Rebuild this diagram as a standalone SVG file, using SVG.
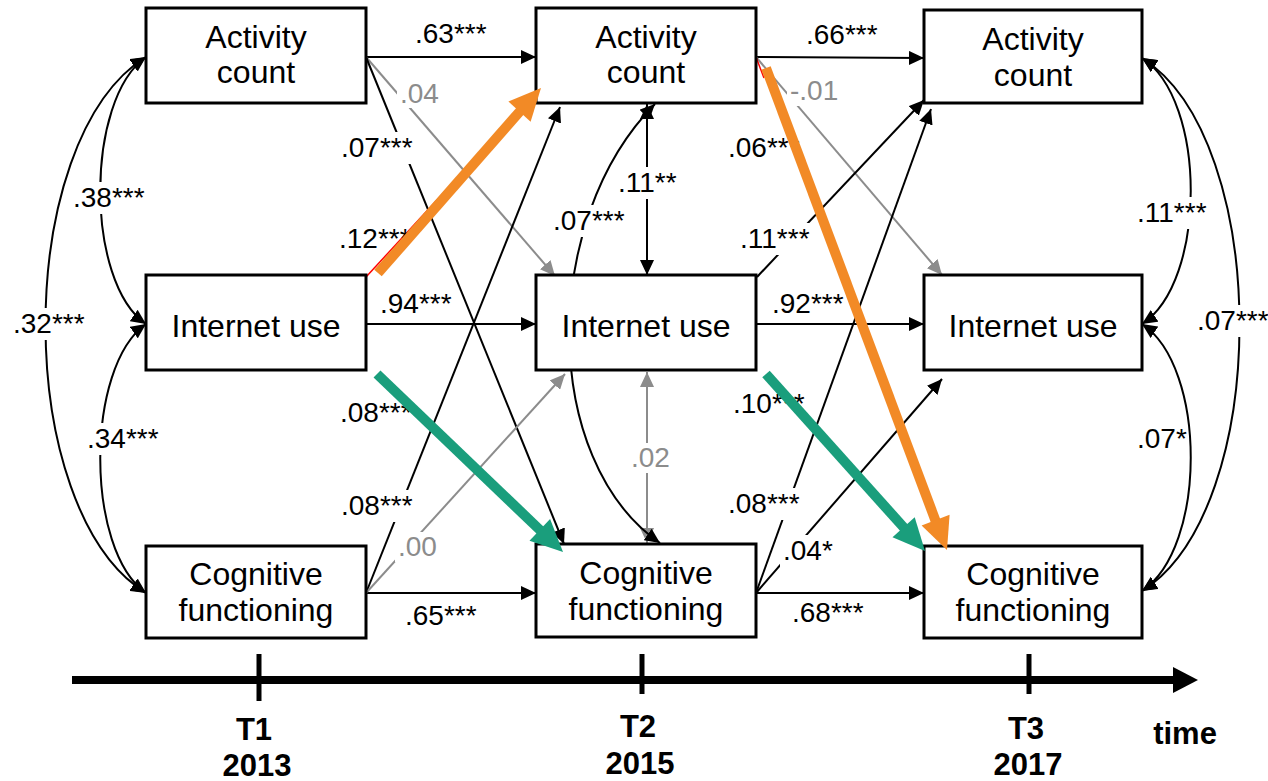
<svg xmlns="http://www.w3.org/2000/svg" width="1268" height="781" viewBox="0 0 1268 781">
  <style>
    .box { fill: #ffffff; stroke: #000000; stroke-width: 3; }
    .nt { font-family: "Liberation Sans", Arial, sans-serif; font-size: 32px; fill: #000000; text-anchor: middle; }
    .lb { font-family: "Liberation Sans", Arial, sans-serif; font-size: 28px; fill: #000000; }
    .lbg { fill: #8c8c8c; }
    .bg { fill: #ffffff; }
    .ln { fill: none; stroke: #000000; stroke-width: 2; }
    .lng { fill: none; stroke: #8c8c8c; stroke-width: 2; }
    .red { fill: none; stroke: #ff0000; stroke-width: 1.5; }
    .ax { font-family: "Liberation Sans", Arial, sans-serif; font-size: 31px; font-weight: bold; fill: #000000; text-anchor: middle; }
  </style>
  <defs>
    <marker id="ah" viewBox="0 0 15 14" refX="15" refY="7" markerWidth="15" markerHeight="14" markerUnits="userSpaceOnUse" orient="auto-start-reverse">
      <path d="M0,0 L15,7 L0,14 z" fill="#000000"/>
    </marker>
    <marker id="ahg" viewBox="0 0 15 14" refX="15" refY="7" markerWidth="15" markerHeight="14" markerUnits="userSpaceOnUse" orient="auto-start-reverse">
      <path d="M0,0 L15,7 L0,14 z" fill="#8c8c8c"/>
    </marker>
  </defs>
  <rect width="1268" height="781" fill="#ffffff"/>

  <!-- paths, covariances and stability arrows -->
  <g id="connectors">
    <!-- stability paths -->
    <path class="ln" d="M366,57 L536,57" marker-end="url(#ah)"/>
    <path class="ln" d="M366,324 L536,324" marker-end="url(#ah)"/>
    <path class="ln" d="M366,593 L536,593" marker-end="url(#ah)"/>
    <path class="ln" d="M756,57 L924,58" marker-end="url(#ah)"/>
    <path class="ln" d="M756,324 L924,324" marker-end="url(#ah)"/>
    <path class="ln" d="M756,593 L924,593" marker-end="url(#ah)"/>
    <!-- cross-lagged T1 to T2 -->
    <path class="lng" d="M366,57 L555,276" marker-end="url(#ahg)"/>
    <path class="ln" d="M366,57 L564,544" marker-end="url(#ah)"/>
    <path class="ln" d="M366,593 L560,107" marker-end="url(#ah)"/>
    <path class="lng" d="M366,593 L565,374" marker-end="url(#ahg)"/>
    <path class="red" d="M366,277 L520,110"/>
    <!-- cross-lagged T2 to T3 -->
    <path class="lng" d="M756,57 L942,275" marker-end="url(#ahg)"/>
    <path class="ln" d="M757,277 L924,100" marker-end="url(#ah)"/>
    <path class="ln" d="M756,593 L931,109" marker-end="url(#ah)"/>
    <path class="ln" d="M756,593 L942,379" marker-end="url(#ah)"/>
    <path class="red" d="M756,57 L764,78"/>
    <!-- T2 residual covariances -->
    <path class="ln" d="M647,104 L647,275" marker-start="url(#ah)" marker-end="url(#ah)"/>
    <path class="lng" d="M647,372 L647,543" marker-start="url(#ahg)" marker-end="url(#ahg)"/>
    <path class="ln" d="M655,104 C540,220 540,460 660,543" marker-start="url(#ah)" marker-end="url(#ah)"/>
    <!-- T1 covariances -->
    <path class="ln" d="M146,57 C85,100 85,282 146,324" marker-start="url(#ah)" marker-end="url(#ah)"/>
    <path class="ln" d="M146,324 C85,367 85,550 146,593" marker-start="url(#ah)" marker-end="url(#ah)"/>
    <path class="ln" d="M146,57 C12,140 12,510 146,593" marker-start="url(#ah)" marker-end="url(#ah)"/>
    <!-- T3 residual covariances -->
    <path class="ln" d="M1142,58 C1207,100 1207,282 1142,324" marker-start="url(#ah)" marker-end="url(#ah)"/>
    <path class="ln" d="M1142,324 C1207,367 1207,548 1142,591" marker-start="url(#ah)" marker-end="url(#ah)"/>
    <path class="ln" d="M1142,58 C1272,140 1272,510 1142,591" marker-start="url(#ah)" marker-end="url(#ah)"/>
  </g>

  <!-- T1 nodes -->
  <g id="activity-t1">
    <rect class="box" x="146" y="8" width="220" height="95"/>
    <text class="nt" x="256" y="48">Activity</text>
    <text class="nt" x="256" y="83">count</text>
  </g>
  <g id="internet-t1">
    <rect class="box" x="146" y="275" width="220" height="95"/>
    <text class="nt" x="256" y="337">Internet use</text>
  </g>
  <g id="cognitive-t1">
    <rect class="box" x="146" y="546" width="220" height="92"/>
    <text class="nt" x="256" y="585">Cognitive</text>
    <text class="nt" x="256" y="621">functioning</text>
  </g>

  <!-- T2 nodes -->
  <g id="activity-t2">
    <rect class="box" x="536" y="8" width="220" height="95"/>
    <text class="nt" x="646" y="48">Activity</text>
    <text class="nt" x="646" y="83">count</text>
  </g>
  <g id="internet-t2">
    <rect class="box" x="536" y="275" width="220" height="95"/>
    <text class="nt" x="646" y="337">Internet use</text>
  </g>
  <g id="cognitive-t2">
    <rect class="box" x="536" y="544" width="220" height="93"/>
    <text class="nt" x="646" y="584">Cognitive</text>
    <text class="nt" x="646" y="620">functioning</text>
  </g>

  <!-- T3 nodes -->
  <g id="activity-t3">
    <rect class="box" x="924" y="10" width="218" height="93"/>
    <text class="nt" x="1033" y="50">Activity</text>
    <text class="nt" x="1033" y="86">count</text>
  </g>
  <g id="internet-t3">
    <rect class="box" x="924" y="275" width="218" height="95"/>
    <text class="nt" x="1033" y="337">Internet use</text>
  </g>
  <g id="cognitive-t3">
    <rect class="box" x="924" y="546" width="218" height="92"/>
    <text class="nt" x="1033" y="585">Cognitive</text>
    <text class="nt" x="1033" y="621">functioning</text>
  </g>

  <!-- coefficient labels -->
  <g id="labels">
    <text class="lb" x="415" y="43">.63***</text>
    <rect class="bg" x="397" y="80" width="45" height="28"/>
    <text class="lb lbg" x="400" y="103">.04</text>
    <rect class="bg" x="338" y="132" width="77" height="32"/>
    <text class="lb" x="341" y="157">.07***</text>
    <rect class="bg" x="70" y="182" width="77" height="32"/>
    <text class="lb" x="73" y="207">.38***</text>
    <text class="lb" x="339" y="248">.12***</text>
    <text class="lb" x="380" y="313">.94***</text>
    <rect class="bg" x="10" y="308" width="77" height="32"/>
    <text class="lb" x="13" y="333">.32***</text>
    <text class="lb" x="340" y="422">.08***</text>
    <rect class="bg" x="84" y="423" width="77" height="32"/>
    <text class="lb" x="87" y="448">.34***</text>
    <rect class="bg" x="338" y="490" width="77" height="32"/>
    <text class="lb" x="341" y="515">.08***</text>
    <rect class="bg" x="395" y="532" width="46" height="30"/>
    <text class="lb lbg" x="398" y="556">.00</text>
    <text class="lb" x="405" y="625">.65***</text>
    <rect class="bg" x="615" y="167" width="66" height="32"/>
    <text class="lb" x="618" y="192">.11**</text>
    <rect class="bg" x="550" y="205" width="77" height="32"/>
    <text class="lb" x="553" y="230">.07***</text>
    <rect class="bg" x="628" y="443" width="44" height="30"/>
    <text class="lb lbg" x="631" y="467">.02</text>
    <text class="lb" x="806" y="44">.66***</text>
    <rect class="bg" x="787" y="76" width="54" height="30"/>
    <text class="lb lbg" x="790" y="100">-.01</text>
    <rect class="bg" x="725" y="132" width="77" height="32"/>
    <text class="lb" x="728" y="157">.06***</text>
    <rect class="bg" x="737" y="223" width="77" height="32"/>
    <text class="lb" x="740" y="248">.11***</text>
    <text class="lb" x="772" y="313">.92***</text>
    <text class="lb" x="733" y="413">.10***</text>
    <rect class="bg" x="725" y="488" width="77" height="32"/>
    <text class="lb" x="728" y="513">.08***</text>
    <rect class="bg" x="780" y="535" width="55" height="32"/>
    <text class="lb" x="783" y="560">.04*</text>
    <text class="lb" x="792" y="622">.68***</text>
    <rect class="bg" x="1134" y="197" width="77" height="32"/>
    <text class="lb" x="1137" y="222">.11***</text>
    <rect class="bg" x="1194" y="305" width="77" height="32"/>
    <text class="lb" x="1197" y="330">.07***</text>
    <text class="lb" x="1137" y="448">.07*</text>
  </g>

  <!-- highlighted paths -->
  <g id="highlighted-paths">
    <line x1="378" y1="273" x2="522" y2="109" stroke="#f28a26" stroke-width="10"/>
    <polygon points="541,88 530.6,121.8 508.4,101.6" fill="#f28a26"/>
    <line x1="766" y1="68" x2="936" y2="522" stroke="#f28a26" stroke-width="10"/>
    <polygon points="947,550 921.6,525.4 949.6,514.8" fill="#f28a26"/>
    <line x1="377" y1="374" x2="542" y2="532" stroke="#1a9e7c" stroke-width="10"/>
    <polygon points="563,552 529.5,540.8 550.1,519" fill="#1a9e7c"/>
    <line x1="766" y1="374" x2="906" y2="530" stroke="#1a9e7c" stroke-width="10"/>
    <polygon points="925,551 892.5,537.2 914.7,517.2" fill="#1a9e7c"/>
  </g>

  <!-- time axis -->
  <g id="time-axis">
    <line x1="72" y1="680" x2="1176" y2="680" stroke="#000000" stroke-width="8"/>
    <polygon points="1173,667 1198,680 1173,693" fill="#000000"/>
    <line x1="259" y1="654" x2="259" y2="701" stroke="#000000" stroke-width="5"/>
    <line x1="642" y1="654" x2="642" y2="694" stroke="#000000" stroke-width="5"/>
    <line x1="1029" y1="654" x2="1029" y2="694" stroke="#000000" stroke-width="5"/>
    <text class="ax" x="254" y="740">T1</text>
    <text class="ax" x="257" y="776">2013</text>
    <text class="ax" x="638" y="737">T2</text>
    <text class="ax" x="640" y="774">2015</text>
    <text class="ax" x="1026" y="739">T3</text>
    <text class="ax" x="1028" y="775">2017</text>
    <text class="ax" x="1185" y="744">time</text>
  </g>
</svg>
